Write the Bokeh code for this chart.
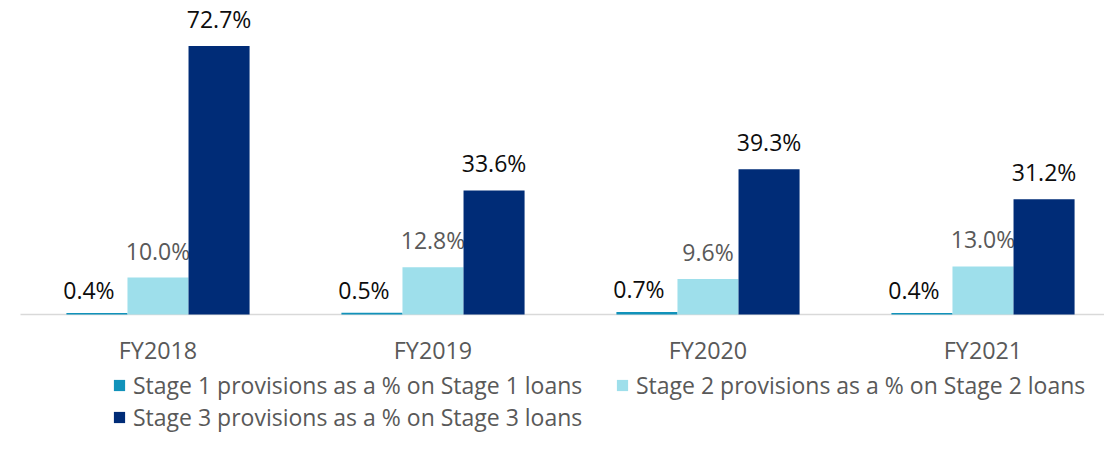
from bokeh.plotting import figure
from bokeh.models import ColumnDataSource, Range1d, Legend, LegendItem
from bokeh.embed import file_html
from bokeh.resources import INLINE
from bokeh.core.properties import value

years = ["FY2018", "FY2019", "FY2020", "FY2021"]
stage1 = [0.4, 0.5, 0.7, 0.4]
stage2 = [10.0, 12.8, 9.6, 13.0]
stage3 = [72.7, 33.6, 39.3, 31.2]
series_names = [
    "Stage 1 provisions as a % on Stage 1 loans",
    "Stage 2 provisions as a % on Stage 2 loans",
    "Stage 3 provisions as a % on Stage 3 loans",
]
colors = ["#1192BA", "#9EDFEB", "#002C77"]
label_colors = ["#0D0D0D", "#595959", "#0D0D0D"]

FONT = "Open Sans"
W, H = 1104, 433
PX_X = 275.0      # px per category
PX_Y = 3.693      # px per percent
X0 = 20           # px of category-axis start
Y0 = 314          # px of baseline
BW = 0.222
offsets = [-BW, 0.0, BW]

p = figure(width=W, height=H, output_backend="svg", toolbar_location=None,
           x_range=Range1d(-X0 / PX_X, (W - X0) / PX_X),
           y_range=Range1d(-(H - Y0) / PX_Y, Y0 / PX_Y),
           min_border=0)
p.outline_line_color = None
p.xgrid.visible = False
p.ygrid.visible = False
p.xaxis.visible = False
p.yaxis.visible = False
p.background_fill_color = "white"
p.border_fill_color = "white"

centers = [i + 0.5 for i in range(len(years))]

# baseline (category axis line)
p.line(x=[0, len(years)], y=[0, 0], line_color="#D9D9D9", line_width=1.5)

renderers = []
for k, vals in enumerate([stage1, stage2, stage3]):
    src = ColumnDataSource(dict(
        x=[c + offsets[k] for c in centers],
        top=vals,
        lab=[f"{v:.1f}%" for v in vals],
    ))
    r = p.vbar(x="x", top="top", width=BW, bottom=0, source=src,
               fill_color=colors[k], line_color=None)
    renderers.append(r)
    xo, yo = (-8, -23) if k == 0 else (0, -27)
    p.text(x="x", y="top", text="lab", source=src, x_offset=xo, y_offset=yo,
           text_align="center", text_baseline="middle",
           text_font=value(FONT), text_font_size="23px", text_color=label_colors[k])

# category labels
cat_src = ColumnDataSource(dict(x=centers, y=[0] * len(years), t=years))
p.text(x="x", y="y", text="t", source=cat_src, y_offset=35,
       text_align="center", text_baseline="middle",
       text_font=value(FONT), text_font_size="23.3px", text_color="#595959")

common = dict(glyph_width=14, glyph_height=14, label_standoff=7,
              label_height=28, padding=0, margin=0, border_line_color=None,
              background_fill_alpha=0, label_text_font=FONT,
              label_text_font_size="23px", label_text_color="#595959",
              label_text_baseline="middle")
legA = Legend(items=[LegendItem(label=series_names[0], renderers=[renderers[0]]),
                     LegendItem(label=series_names[1], renderers=[renderers[1]])],
              orientation="horizontal", location=(112, 32),
              label_width=470, spacing=12, **common)
legB = Legend(items=[LegendItem(label=series_names[2], renderers=[renderers[2]])],
              orientation="horizontal", location=(112, 0), **common)
p.add_layout(legA, "center")
p.add_layout(legB, "center")

open("out.html", "w").write(file_html(p, INLINE))
